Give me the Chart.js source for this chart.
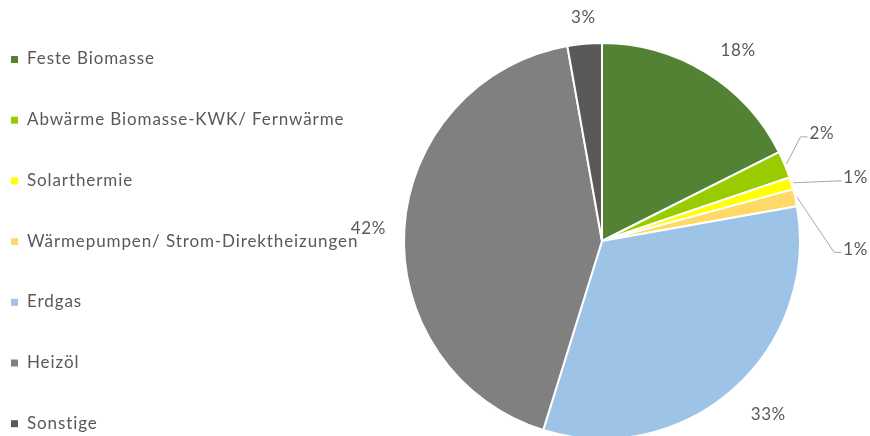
<!DOCTYPE html>
<html>
<head>
<meta charset="utf-8">
<script src="https://cdn.jsdelivr.net/npm/chart.js@4.4.0/dist/chart.umd.min.js"></script>
<style>
  body { margin: 0; background: #fff; }
  canvas { display: block; }
</style>
</head>
<body>
<canvas id="myChart" width="870" height="436"></canvas>
<script>
const labels = [
    'Feste Biomasse', 'Abwärme Biomasse-KWK/ Fernwärme', 'Solarthermie',
    'Wärmepumpen/ Strom-Direktheizungen', 'Erdgas', 'Heizöl', 'Sonstige'
];
const shares = [17.6, 2.2, 1.0, 1.4, 32.6, 42.4, 2.8];
const colors = ['#548235', '#99CC00', '#FFFF00', '#FFD966', '#9DC3E6', '#808080', '#595959'];

// label offsets from the middle of each slice's outer edge
const labelPlace = [
    {dx: 31, dy: -20},
    {dx: 14, dy: -27, tail: 7, leader: true},
    {dx: 48, dy: -2, tail: 0, leader: true},
    {dx: 37, dy: 55, tail: 7, leader: true},
    {dx: 34, dy: 23},
    {dx: -34, dy: 0},
    {dx: -1, dy: -24}
];

const textColor = '#595959';
const fontFamily = 'Lato, "Open Sans", sans-serif';

const sideLegend = {
    id: 'sideLegend',
    afterDraw(chart) {
        const ctx = chart.ctx;
        ctx.save();
        ctx.font = '17px ' + fontFamily;
        ctx.letterSpacing = '0.9px';
        ctx.textBaseline = 'middle';
        ctx.textAlign = 'left';
        chart.data.labels.forEach((name, i) => {
            const y = 59 + i * 60.7;
            ctx.fillStyle = chart.data.datasets[0].backgroundColor[i];
            ctx.fillRect(11, y - 3, 7, 7);
            ctx.fillStyle = textColor;
            ctx.fillText(name, 27, y);
        });
        ctx.restore();
    }
};

const pctLabels = {
    id: 'pctLabels',
    afterDatasetsDraw(chart) {
        const ctx = chart.ctx;
        const meta = chart.getDatasetMeta(0);
        ctx.save();
        ctx.font = '17px ' + fontFamily;
        ctx.letterSpacing = '0.6px';
        ctx.textBaseline = 'middle';
        meta.data.forEach((arc, i) => {
            const p = arc.getProps(['x', 'y', 'startAngle', 'endAngle', 'outerRadius'], true);
            const mid = (p.startAngle + p.endAngle) / 2;
            const ex = p.x + Math.cos(mid) * (p.outerRadius + 2);
            const ey = p.y + Math.sin(mid) * (p.outerRadius + 2);
            const place = labelPlace[i];
            const text = Math.round(shares[i]) + '%';
            const lx = ex + place.dx;
            const ly = ey + place.dy;
            ctx.fillStyle = textColor;
            if (place.leader) {
                ctx.strokeStyle = '#A6A6A6';
                ctx.lineWidth = 1;
                ctx.beginPath();
                ctx.moveTo(ex, ey);
                ctx.lineTo(lx, ly);
                ctx.lineTo(lx + place.tail, ly);
                ctx.stroke();
                ctx.textAlign = 'left';
                ctx.fillText(text, lx + place.tail + 2, ly - 3);
            } else {
                ctx.textAlign = 'center';
                ctx.fillText(text, lx, ly);
            }
        });
        ctx.restore();
    }
};

const data = {
    labels: labels,
    datasets: [{
        data: shares,
        backgroundColor: colors,
        borderColor: '#ffffff',
        borderWidth: 2,
        radius: 198,
        clip: false
    }]
};

const config = {
    type: 'pie',
    data: data,
    options: {
        responsive: false,
        animation: false,
        layout: {
            padding: {left: 404, right: 70, top: 46, bottom: 0}
        },
        plugins: {
            legend: {display: false},
            tooltip: {enabled: false}
        }
    },
    plugins: [sideLegend, pctLabels]
};

const myChart = new Chart(document.getElementById('myChart'), config);
</script>
</body>
</html>
